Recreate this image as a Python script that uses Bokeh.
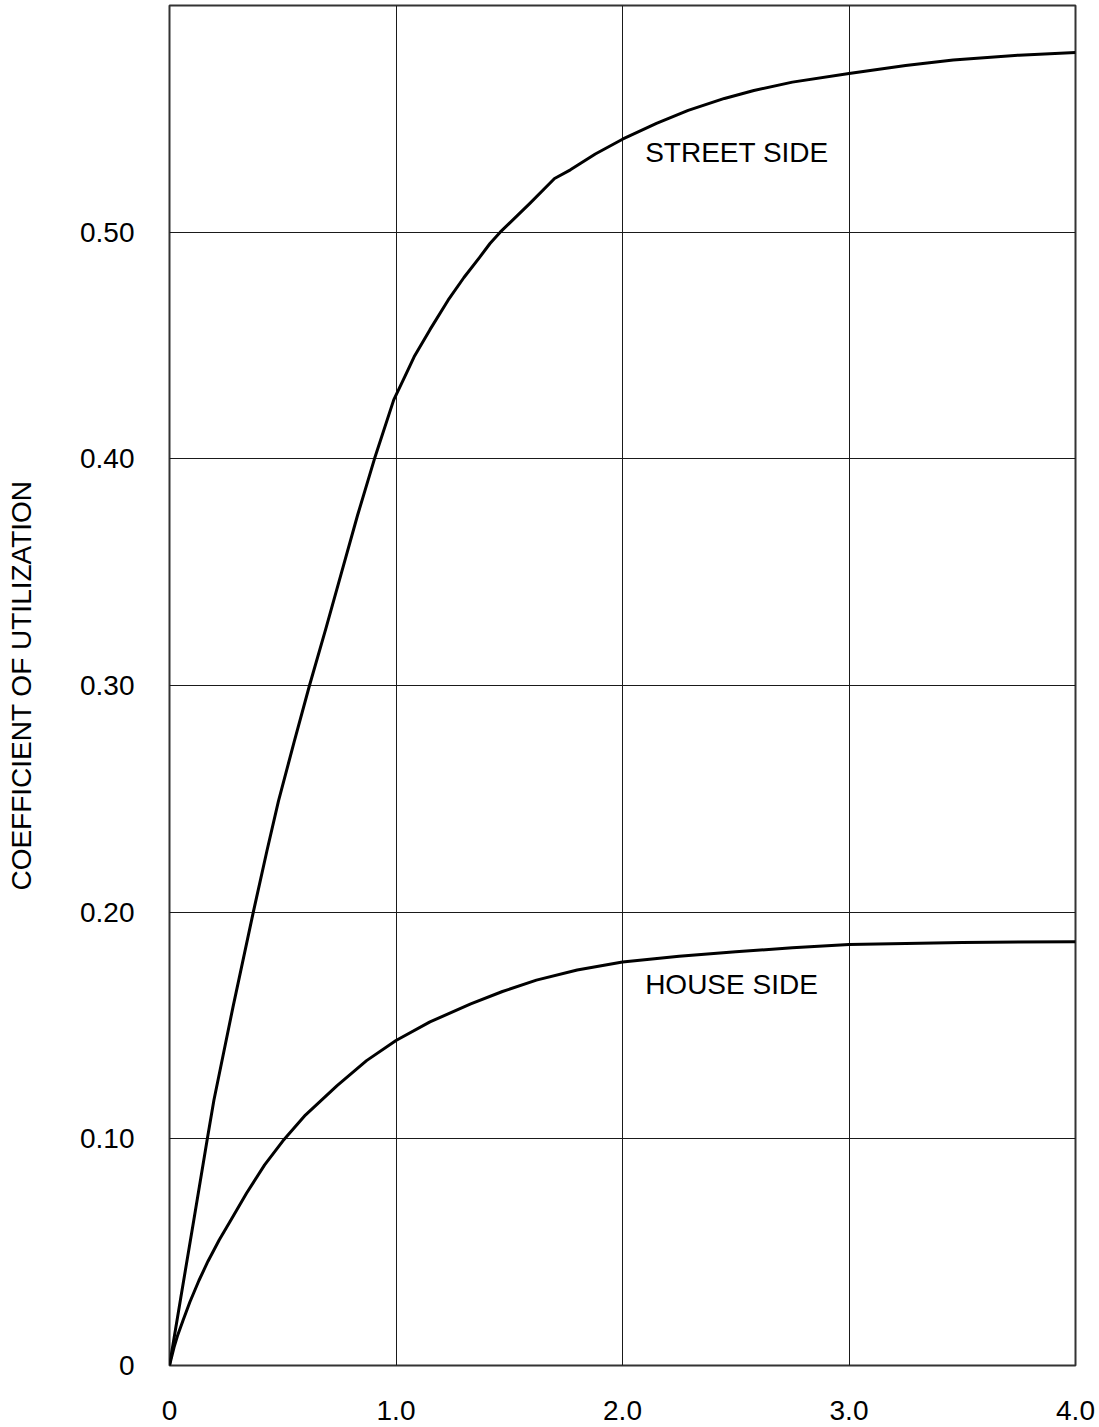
from bokeh.plotting import figure
from bokeh.models import FixedTicker, Range1d, Label
from bokeh.embed import file_html
from bokeh.resources import INLINE

# ---- data ----
street_x = [0, 0.05, 0.107, 0.167, 0.196, 0.28, 0.37, 0.43, 0.481, 0.55, 0.618, 0.69, 0.76,
            0.83, 0.905, 0.99, 1.04, 1.08, 1.15, 1.23, 1.30, 1.37, 1.415, 1.46, 1.59, 1.70,
            1.77, 1.88, 2.0, 2.15, 2.29, 2.45, 2.58, 2.75, 3.0, 3.25, 3.46, 3.75, 4.0]
street_y = [0, 0.030, 0.064, 0.100, 0.117, 0.158, 0.200, 0.227, 0.249, 0.275, 0.300, 0.325,
            0.350, 0.375, 0.400, 0.426, 0.4365, 0.445, 0.457, 0.470, 0.480, 0.489, 0.495, 0.500,
            0.5126, 0.5237, 0.5275, 0.5345, 0.541, 0.548, 0.5537, 0.559, 0.5625, 0.5662, 0.570,
            0.5735, 0.576, 0.5781, 0.5793]

house_x = [0, 0.02, 0.035, 0.06, 0.09, 0.13, 0.17, 0.22, 0.27, 0.34, 0.42, 0.5, 0.6, 0.74,
           0.87, 1.0, 1.15, 1.33, 1.47, 1.62, 1.8, 2.0, 2.25, 2.5, 2.75, 3.0, 3.5, 4.0]
house_y = [0, 0.008, 0.013, 0.020, 0.028, 0.0375, 0.046, 0.0555, 0.064, 0.076, 0.0885, 0.099,
           0.1105, 0.1235, 0.1345, 0.1434, 0.1516, 0.1595, 0.165, 0.170, 0.1745, 0.178, 0.1805,
           0.1825, 0.1843, 0.1857, 0.1866, 0.187]

x_ticks = [0, 1, 2, 3, 4]
x_tick_labels = ["0", "1.0", "2.0", "3.0", "4.0"]
y_ticks = [0, 0.1, 0.2, 0.3, 0.4, 0.5]
y_tick_labels = ["0", "0.10", "0.20", "0.30", "0.40", "0.50"]
y_title = "COEFFICIENT OF UTILIZATION"
street_label = "STREET SIDE"
house_label = "HOUSE SIDE"

FONT = "Liberation Sans"
FS = "28px"

p = figure(frame_width=906, frame_height=1360,
           min_border_left=169, min_border_right=24, min_border_top=5, min_border_bottom=62,
           x_range=Range1d(0, 4), y_range=Range1d(0, 0.6),
           output_backend="svg", toolbar_location=None, tools="")

p.background_fill_color = "white"
p.border_fill_color = "white"
p.outline_line_color = "#333333"
p.outline_line_width = 2

for ax in (p.xaxis, p.yaxis):
    ax.axis_line_color = None
    ax.major_tick_line_color = None
    ax.minor_tick_line_color = None
    ax.major_tick_out = 0
    ax.major_tick_in = 0
    ax.major_label_text_font = FONT
    ax.major_label_text_font_size = FS
    ax.major_label_text_color = "black"

p.xaxis.ticker = FixedTicker(ticks=x_ticks)
p.xaxis.major_label_overrides = {t: l for t, l in zip(x_ticks, x_tick_labels)}
p.xaxis.major_label_standoff = 35

p.yaxis.ticker = FixedTicker(ticks=y_ticks)
p.yaxis.major_label_overrides = {t: l for t, l in zip(y_ticks, y_tick_labels)}
p.yaxis.major_label_standoff = 35
p.yaxis.axis_label = y_title
p.yaxis.axis_label_text_font = FONT
p.yaxis.axis_label_text_font_size = FS
p.yaxis.axis_label_text_font_style = "normal"
p.yaxis.axis_label_text_color = "black"
p.yaxis.axis_label_standoff = 40

p.xgrid.ticker = FixedTicker(ticks=[1, 2, 3])
p.ygrid.ticker = FixedTicker(ticks=[0.1, 0.2, 0.3, 0.4, 0.5])
for g in (p.xgrid, p.ygrid):
    g.grid_line_color = "#1a1a1a"
    g.grid_line_width = 1

p.line(street_x, street_y, line_color="black", line_width=3, line_join="round")
p.line(house_x, house_y, line_color="black", line_width=3, line_join="round")

p.add_layout(Label(x=2.1, y=0.535, text=street_label, text_font=FONT, text_font_size=FS,
                   text_baseline="middle", text_align="left", text_color="black"))
p.add_layout(Label(x=2.1, y=0.168, text=house_label, text_font=FONT, text_font_size=FS,
                   text_baseline="middle", text_align="left", text_color="black"))

open("out.html", "w").write(file_html(p, INLINE))
